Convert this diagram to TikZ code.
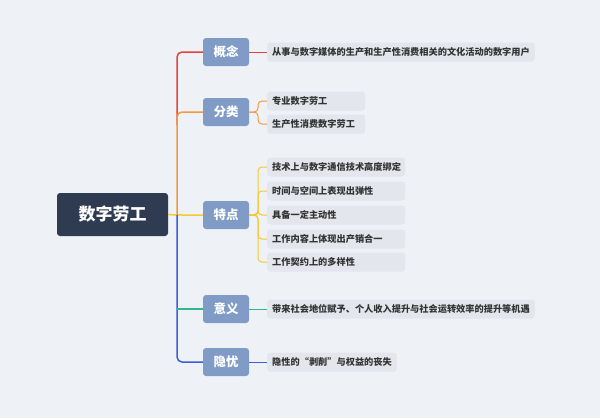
\documentclass[tikz,border=0pt]{standalone}
\usepackage{fontspec}
\setmainfont{Noto Sans CJK SC}
\usetikzlibrary{positioning}
\definecolor{bgGrey}{HTML}{EEF2F7}
\definecolor{rootDark}{HTML}{2E3B50}
\definecolor{mainBlue}{HTML}{7F9BC6}
\definecolor{leafGrey}{HTML}{E3E7ED}
\definecolor{lineRed}{HTML}{E8413C}
\definecolor{lineOrange}{HTML}{F39A3C}
\definecolor{lineYellow}{HTML}{F5C933}
\definecolor{lineGreen}{HTML}{2EB98A}
\definecolor{lineBlue}{HTML}{3B5FD8}
\begin{document}
\begin{tikzpicture}[x=1pt, y=-1pt,
every node/.style={font=\bfseries},
rootbox/.style={fill=rootDark, text=white, rounded corners=3pt, minimum width=111pt, minimum height=43pt, font=\fontsize{17}{20}\selectfont\bfseries},
topic/.style={fill=mainBlue, text=white, rounded corners=3pt, minimum width=46pt, minimum height=28pt, font=\fontsize{12.5}{15}\selectfont\bfseries},
leaf/.style={fill=leafGrey, rounded corners=3pt, anchor=west, inner xsep=5pt, minimum height=19pt, font=\fontsize{9.2}{11}\selectfont\bfseries, text=black!80},
wideA/.style={leaf, text width=88pt, align=left},
wideB/.style={leaf, text width=128pt, align=left},
conn/.style={line width=1.5pt, rounded corners=5pt},
sub/.style={line width=1pt, rounded corners=4pt}
]
\useasboundingbox[fill=bgGrey] (0,0) rectangle (600,418);

% root and topics
\node[rootbox] (R) at (112.5,214.5) {数字劳工};
\node[topic] (T1) at (226,52) {概念};
\node[topic] (T2) at (226,112) {分类};
\node[topic] (T3) at (226,215) {特点};
\node[topic] (T4) at (226,309) {意义};
\node[topic] (T5) at (226,362) {隐忧};

% leaves
\node[leaf] (L1) at (267,52) {从事与数字媒体的生产和生产性消费相关的文化活动的数字用户};
\node[wideA] (L21) at (267,101) {专业数字劳工};
\node[wideA] (L22) at (267,124) {生产性消费数字劳工};
\node[wideB] (L31) at (267,167) {技术上与数字通信技术高度绑定};
\node[wideB] (L32) at (267,191) {时间与空间上表现出弹性};
\node[wideB] (L33) at (267,215) {具备一定主动性};
\node[wideB] (L34) at (267,239) {工作内容上体现出产销合一};
\node[wideB] (L35) at (267,262) {工作契约上的多样性};
\node[leaf] (L4) at (267,309) {带来社会地位赋予、个人收入提升与社会运转效率的提升等机遇};
\node[leaf] (L5) at (267,362) {隐性的“剥削”与权益的丧失};

% trunk
\coordinate (J) at (177,215);
\draw[conn, lineYellow] (R.east) -- (J) -- (T3.west);
\draw[conn, lineRed] (177,125) -- (177,52) -- (T1.west);
\draw[conn, lineOrange] (177,215) -- (177,112) -- (T2.west);
\draw[conn, lineBlue] (J) -- (177,362) -- (T5.west);
\draw[conn, lineGreen] (177,309) -- (T4.west);

% sub connectors
\draw[sub, lineRed] (T1.east) -- (L1.west);
\foreach \l in {L21,L22} \draw[sub, lineOrange] (T2.east) -- (258,112) |- (\l.west);
\foreach \l in {L31,L32,L33,L34,L35} \draw[sub, lineYellow] (T3.east) -- (258,215) |- (\l.west);
\draw[sub, lineGreen] (T4.east) -- (L4.west);
\draw[sub, lineBlue] (T5.east) -- (L5.west);
\end{tikzpicture}
\end{document}
